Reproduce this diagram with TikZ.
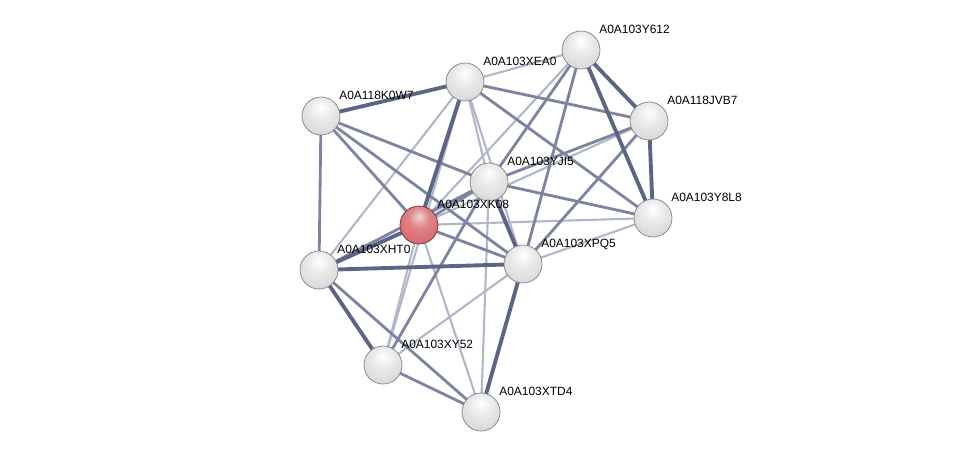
\documentclass[tikz,border=0pt]{standalone}
\usepackage{fontspec}
\setmainfont{Liberation Sans}
\usepackage{tikz}
\usetikzlibrary{backgrounds}

\definecolor{edgedark}{RGB}{93,101,133}
\definecolor{edgemid}{RGB}{125,132,160}
\definecolor{edgelight}{RGB}{178,182,201}
\definecolor{protred}{RGB}{215,100,105}

\pgfdeclareradialshading{greyball}{\pgfpoint{0bp}{12bp}}{%
	color(0bp)=(white); color(14bp)=(white!92!black); color(34bp)=(white!84!black);
	color(50bp)=(white!74!black); color(62bp)=(white!60!black); color(70bp)=(white!60!black)}
\pgfdeclareradialshading{redball}{\pgfpoint{0bp}{12bp}}{%
	color(0bp)=(white!70!protred); color(14bp)=(white!20!protred); color(34bp)=(protred);
	color(50bp)=(protred!85!black); color(62bp)=(protred!60!black); color(70bp)=(protred!60!black)}

\begin{document}
\begin{tikzpicture}[x=0.02cm, y=-0.02cm,
	every node/.style={font=\fontsize{6.8}{8}\selectfont},
	prot/.style={circle, inner sep=0pt, minimum size=0.76cm, shading=greyball, draw=white!50!black, line width=0.4pt},
	query/.style={prot, shading=redball, draw=protred!50!black},
	plabel/.style={anchor=base west, inner sep=0pt},
	strong/.style={edgedark, line width=2.2pt},
	medium/.style={edgemid, line width=1.6pt},
	weak/.style={edgelight, line width=1.2pt}]
	\useasboundingbox (0,0) rectangle (976,458);
	% spheres and names
	\foreach \p/\t/\x/\y in {y612/A0A103Y612/581/50, xea0/A0A103XEA0/465/82,
		k0w7/A0A118K0W7/321/116, jvb7/A0A118JVB7/649/121, yji5/A0A103YJI5/489/182,
		y8l8/A0A103Y8L8/653/218, xht0/A0A103XHT0/319/270, xpq5/A0A103XPQ5/523/264,
		xy52/A0A103XY52/383/365, xtd4/A0A103XTD4/481/412} {
		\node[prot] (\p) at (\x,\y) {};
		\node[plabel] (l-\p) at ([shift={(18,-17)}]\p.center) {\t};
	}
	\node[query] (xk08) at (419,225) {};
	\node[plabel] (l-xk08) at ([shift={(18,-17)}]xk08.center) {A0A103XK08};
	\begin{pgfonlayer}{background}
	% weak links
	\foreach \a/\b in {y612/xea0, y612/xk08, xea0/xht0, xea0/yji5, xea0/xpq5,
		jvb7/xk08, y8l8/xk08, y8l8/xpq5, xk08/xy52, xy52/xea0, xk08/xtd4,
		yji5/xtd4, xy52/xpq5}
		\draw[weak] (\a.center) -- (\b.center);
	% medium links
	\foreach \a/\b in {k0w7/xht0, k0w7/xk08, k0w7/yji5, k0w7/xpq5, y612/xpq5,
		y612/yji5, xea0/jvb7, xea0/y8l8, yji5/y8l8, xk08/xpq5, xk08/yji5,
		xht0/xtd4, xht0/yji5, xy52/xtd4, xy52/yji5, jvb7/xpq5, jvb7/yji5}
		\draw[medium] (\a.center) -- (\b.center);
	% strong links
	\foreach \a/\b in {k0w7/xea0, xea0/xk08, y612/jvb7, y612/y8l8, jvb7/y8l8,
		xht0/xk08, xht0/xpq5, xht0/xy52, xpq5/xtd4, yji5/xpq5}
		\draw[strong] (\a.center) -- (\b.center);
	\end{pgfonlayer}
\end{tikzpicture}
\end{document}
